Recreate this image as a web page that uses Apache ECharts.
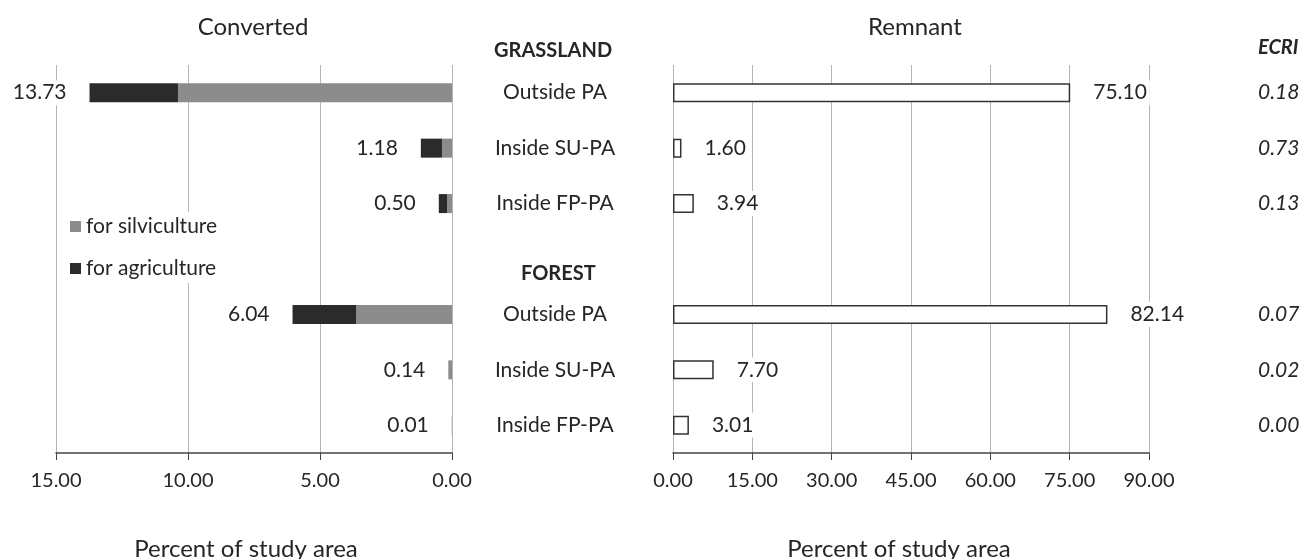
<!DOCTYPE html>
<html>
<head>
<meta charset="utf-8">
<script src="https://cdn.jsdelivr.net/npm/echarts@6/dist/echarts.min.js"></script>
<style>
  html, body { margin: 0; padding: 0; background: #fff; }
  #chart { width: 1303px; height: 559px; }
</style>
</head>
<body>
<div id="chart"></div>
<script>
// rows, top to bottom (the empty one is the gap before FOREST)
const rows = ['Outside PA', 'Inside SU-PA', 'Inside FP-PA', '', 'Outside PA', 'Inside SU-PA', 'Inside FP-PA'];
const silviculture = [10.38, 0.38, 0.19, null, 3.63, 0.14, 0.01];
const agriculture = [3.35, 0.80, 0.31, null, 2.41, 0, 0];
const converted = [13.73, 1.18, 0.50, null, 6.04, 0.14, 0.01];
const remnant = [75.10, 1.60, 3.94, null, 82.14, 7.70, 3.01];
const ecri = ['0.18', '0.73', '0.13', '', '0.07', '0.02', '0.00'];

const FONT = 'Lato';
const txt = '#262626';

let chart = echarts.init(document.getElementById('chart'));

const gridLine = { show: true, lineStyle: { color: '#b5b5b5', width: 1 } };
const xLine = { show: true, lineStyle: { color: '#444', width: 1.5 } };
const numLabel = {
    show: true, color: txt, fontFamily: FONT, fontSize: 20, margin: 18,
    formatter: v => v.toFixed(2)
};
const valLabel = (pos) => ({
    show: true, position: pos, distance: 20, color: txt, fontFamily: FONT, fontSize: 21,
    backgroundColor: '#fff', padding: [2, 3],
    formatter: p => p.value == null ? '' : p.value.toFixed(2)
});

chart.setOption({
    animation: false,
    textStyle: { fontFamily: FONT },
    title: [
        { text: 'Converted', left: 248, top: 10, textAlign: 'center',
          textStyle: { fontFamily: FONT, fontSize: 24, fontWeight: 'normal', color: txt } },
        { text: 'Remnant', left: 910, top: 10, textAlign: 'center',
          textStyle: { fontFamily: FONT, fontSize: 24, fontWeight: 'normal', color: txt } }
    ],
    legend: {
        data: ['for silviculture', 'for agriculture'],
        orient: 'vertical', left: 66, top: 212,
        icon: 'rect', itemWidth: 11, itemHeight: 11, itemGap: 21,
        backgroundColor: '#fff', padding: [4, 4],
        textStyle: { fontFamily: FONT, fontSize: 21, color: txt }
    },
    graphic: [
        { type: 'text', left: 553 - 59, top: 41,
          style: { text: 'GRASSLAND', fontFamily: FONT, fontSize: 20, fontWeight: 'bold', fill: txt } },
        { type: 'text', left: 556 - 35, top: 264,
          style: { text: 'FOREST', fontFamily: FONT, fontSize: 20, fontWeight: 'bold', fill: txt } },
        { type: 'text', left: 1258, top: 38,
          style: { text: 'ECRI', fontFamily: FONT, fontSize: 20, fontWeight: 'bold', fontStyle: 'italic', fill: txt } }
    ],
    grid: [
        { left: 56, right: 851, top: 65, bottom: 106, outerBoundsMode: 'none' },
        { left: 673, right: 154, top: 65, bottom: 106, outerBoundsMode: 'none' }
    ],
    xAxis: [
        {
            gridIndex: 0, type: 'value', min: 0, max: 15, interval: 5, inverse: true,
            axisLine: xLine, axisTick: { show: true, length: 7, lineStyle: { color: '#444' } },
            splitLine: gridLine, axisLabel: numLabel,
            name: 'Percent of study area', nameLocation: 'middle', nameGap: 84,
            nameTextStyle: { fontFamily: FONT, fontSize: 24, color: txt, padding: [0, 16, 0, 0] }
        },
        {
            gridIndex: 1, type: 'value', min: 0, max: 90, interval: 15,
            axisLine: xLine, axisTick: { show: true, length: 7, lineStyle: { color: '#444' } },
            splitLine: gridLine, axisLabel: numLabel,
            name: 'Percent of study area', nameLocation: 'middle', nameGap: 84,
            nameTextStyle: { fontFamily: FONT, fontSize: 24, color: txt, padding: [0, 24, 0, 0] }
        }
    ],
    yAxis: [
        {
            gridIndex: 0, type: 'category', data: rows, inverse: true,
            axisLine: { show: false }, axisTick: { show: false }, axisLabel: { show: false }
        },
        {
            gridIndex: 1, type: 'category', data: rows, inverse: true,
            axisLine: { show: false }, axisTick: { show: false },
            axisLabel: { show: true, align: 'center', margin: 118, color: txt, fontFamily: FONT, fontSize: 21 }
        },
        {
            gridIndex: 1, type: 'category', data: ecri, inverse: true, position: 'right',
            axisLine: { show: false }, axisTick: { show: false },
            axisLabel: { show: true, align: 'left', margin: 109, color: txt, fontFamily: FONT,
                         fontSize: 21, fontStyle: 'italic' }
        }
    ],
    series: [
        {
            name: 'for silviculture', type: 'bar', stack: 'conv', xAxisIndex: 0, yAxisIndex: 0,
            data: silviculture, barWidth: 19, itemStyle: { color: '#8c8c8c' }
        },
        {
            name: 'for agriculture', type: 'bar', stack: 'conv', xAxisIndex: 0, yAxisIndex: 0,
            data: agriculture, barWidth: 19, itemStyle: { color: '#2b2b2b' }
        },
        {
            name: 'converted total', type: 'bar', xAxisIndex: 0, yAxisIndex: 0,
            data: converted, barWidth: 19, barGap: '-100%', z: 1,
            itemStyle: { color: 'rgba(0,0,0,0)' },
            label: valLabel('left')
        },
        {
            name: 'remnant', type: 'bar', xAxisIndex: 1, yAxisIndex: 1,
            data: remnant, barWidth: 19,
            itemStyle: { color: '#fff', borderColor: '#333', borderWidth: 1.5 },
            label: valLabel('right')
        }
    ]
});
</script>
</body>
</html>
